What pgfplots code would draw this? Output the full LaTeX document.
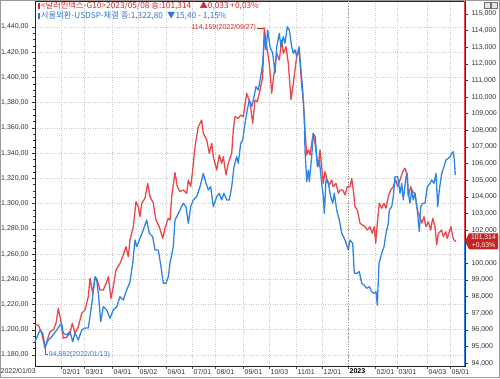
\documentclass[border=0pt]{standalone}
\usepackage{pgfplots}
\pgfplotsset{compat=1.18}
\usepackage{fontspec}
\setmainfont{Liberation Sans}
\newfontfamily\kr{Noto Sans CJK KR}
\definecolor{cred}{RGB}{232,72,74}
\definecolor{cblue}{RGB}{45,132,230}
\definecolor{tred}{RGB}{212,40,40}
\definecolor{tblue}{RGB}{50,118,212}
\definecolor{gridc}{RGB}{200,200,200}
\definecolor{boxred}{RGB}{196,36,36}

\pgfplotsset{
  common/.style={
    at={(35pt,12pt)}, anchor=south west, scale only axis,
    width=430pt, height=365pt, xmin=0, xmax=430,
    tick align=outside, major tick length=3pt, minor tick length=1.5pt,
    tick style={black!80, line width=0.4pt},
    ticklabel style={font=\fontsize{7}{8}\selectfont, color=black!80},
  }
}

\begin{document}
\begin{tikzpicture}[x=1pt,y=1pt]
\path[use as bounding box] (0,0) rectangle (500,378);
\fill[white] (0,0) rectangle (500,378);

% left axis with grid
\begin{axis}[common,
  ymin=1171.28, ymax=1460.6,
  axis line style={black!85, line width=0.5pt},
  ytick={1180,1200,...,1440}, minor y tick num=3,
  ytick pos=left, xtick pos=bottom,
  yticklabel style={/pgf/number format/.cd, use comma, 1000 sep={,}, fixed, fixed zerofill, precision=2, assume math mode=true},
  xtick={26,49,77,103,131,157,180,208,234,261,287,313,340,362,392,415},
  xticklabels={02/01,03/01,04/01,05/02,06/01,07/01,08/01,09/01,10/03,11/01,12/01,{\color{black}\textbf{2023}},02/01,03/01,04/03,05/01},
  xticklabel style={anchor=north west, inner sep=1pt, xshift=0.5pt, yshift=1.2pt},
  major x tick style={black!70},
  xmajorgrids, ymajorgrids,
  major grid style={gridc, dotted, line width=0.6pt},
]
\draw[black!45, dotted, line width=0.7pt] (axis cs:313,1171.28) -- (axis cs:313,1460.6);
\end{axis}

% right axis: dollar index
\begin{axis}[common,
  ymin=93.82, ymax=115.78,
  axis x line=none, axis y line*=right,
  y axis line style={draw=none},
  ytick={94,95,...,100,102,103,...,115},
  yticklabel style={/pgf/number format/.cd, use comma, fixed, fixed zerofill, precision=3, assume math mode=true},
]
\addplot[cred, line width=1.3pt, line join=round] coordinates {
(0,96.29)(3.3,96.29)(6.7,95.80)(10,94.88)(13.3,95.58)(15,95.88)(18.3,95.99)(21,96.39)(23.3,97.29)(25.7,96.59)(28.3,95.49)(31.7,95.55)(35,95.81)(37.3,96.39)(40,95.79)(43.3,96.18)(46.7,96.99)(50,97.19)(53.3,97.99)(55,99.10)(57.7,98.19)(60,99.10)(61.7,99.10)(65,98.39)(68.3,98.39)(71.7,98.89)(73.3,99.19)(76,97.89)(78.3,98.59)(81,99.60)(85,100.00)(88.3,100.50)(91,101.00)(93.3,100.40)(95,101.40)(98.3,102.20)(101,103.71)(103.3,103.40)(105,102.80)(106.7,103.61)(110,103.91)(112.7,104.81)(115,104.01)(118.3,103.61)(121,102.60)(124.3,102.20)(127.7,101.50)(130,102.11)(133.3,102.71)(135,102.60)(136.7,104.01)(140,105.46)(142.3,104.61)(145,104.31)(148.3,104.41)(151.7,104.21)(153.3,105.01)(155.7,104.61)(157.7,105.61)(160,107.01)(163.3,108.22)(166.7,108.62)(168.3,107.82)(171.7,107.42)(174.3,106.62)(176.7,107.22)(178.3,106.41)(181.7,105.61)(184.3,106.52)(186.7,106.02)(188.3,106.41)(191,105.31)(193.3,106.02)(196.7,106.62)(198.3,108.02)(200,108.82)(203.3,108.72)(205.7,108.92)(208.3,108.82)(211.7,110.23)(215,109.63)(217.7,108.42)(220,109.82)(222.3,109.72)(225,110.43)(227.7,111.23)(229.3,114.16)(231.7,113.03)(234.3,112.03)(236.7,110.23)(239,111.43)(241.7,112.63)(244.3,112.23)(246.7,113.43)(248.3,112.63)(251,113.03)(253.3,112.03)(256,109.84)(258.3,110.83)(261.7,112.43)(264.3,112.83)(266.7,110.63)(268.3,109.84)(270,108.02)(271.7,106.52)(273.3,106.82)(275,106.52)(276.7,107.22)(278.3,107.82)(280,107.22)(281.7,106.41)(283.3,105.81)(285,106.82)(286.7,105.81)(288.3,104.81)(290,105.51)(292.3,105.01)(294.3,104.71)(296.7,105.01)(298.3,104.61)(301,104.81)(303.3,104.21)(305,104.41)(307.7,104.41)(310,104.11)(312.3,104.61)(315,104.61)(316.7,105.11)(318.3,104.41)(320,103.40)(322.3,103.21)(325,102.41)(327.7,102.30)(330,102.20)(332.3,102.00)(335,102.20)(337.3,101.80)(339.3,102.20)(340.7,101.20)(342.3,102.41)(344.3,103.61)(346.7,103.31)(349,103.61)(351,103.31)(353.3,104.01)(355.7,104.41)(358.3,104.61)(360.7,105.01)(362.7,104.61)(365,105.01)(367.7,105.51)(370,105.72)(371.7,105.41)(373.3,104.01)(375.7,104.61)(377.7,104.31)(380,104.21)(381.7,103.40)(383.3,103.01)(385,102.80)(386.7,102.41)(389,102.80)(391,102.20)(393.3,102.50)(395.7,102.00)(397.7,102.71)(400,102.20)(401.7,101.10)(403.3,101.80)(405,101.90)(406.7,102.00)(408.3,101.60)(410.7,101.90)(412.3,101.50)(414.3,101.90)(416,102.20)(417.7,101.60)(419,101.40)(421,101.31)
};
% right axis line: red above last value, blue below
\draw[cred, line width=1.2pt] (axis cs:430,101.314) -- (axis cs:430,115.78);
\draw[cblue, line width=1.2pt] (axis cs:430,93.82) -- (axis cs:430,101.314);
% peak annotation
\draw[tred, line width=0.5pt] (axis cs:229.3,114.159) -- ([xshift=-7pt]axis cs:229.3,114.159) node[anchor=east, inner sep=1pt, font=\fontsize{7}{8}\selectfont, text=tred] {114,159(2022/09/27)};
% low annotation
\draw[tblue, line width=0.5pt] (axis cs:10,94.882) -- ([yshift=-6pt]axis cs:10,94.882) -- ([yshift=-6pt,xshift=3pt]axis cs:10,94.882) node[anchor=west, inner sep=0.5pt, font=\fontsize{7}{8}\selectfont, text=tblue] {94,882(2022/01/13)};
\end{axis}

% blue series on top
\begin{axis}[common, hide axis, ymin=1171.28, ymax=1460.6, clip=false]
\addplot[cblue, line width=1.3pt, line join=round] coordinates {
(0,1190.5)(5,1199.8)(7.7,1197.4)(10,1186.6)(13.3,1191.9)(16.7,1194.5)(21.7,1199.8)(25,1203.8)(26.7,1204.6)(28.3,1197.4)(31.7,1195.9)(35,1198.5)(37.7,1190.5)(40,1197.4)(43.3,1191.9)(46.7,1199.8)(50,1201.4)(53.3,1201.4)(55,1210.4)(57.7,1226.2)(60,1242.1)(61.7,1239.5)(63.3,1229.1)(65.7,1206.4)(68.3,1218.3)(71.7,1215.7)(75,1209.1)(78.3,1215.7)(81.7,1218.3)(85,1226.2)(88.3,1223.6)(91.7,1231.5)(95,1238.1)(97.7,1252.7)(100,1271.2)(101.7,1265.9)(105,1272.5)(108.3,1279.1)(111.7,1287.0)(114.3,1276.5)(117.7,1273.8)(120,1263.2)(123.3,1263.2)(126,1250.0)(128.3,1236.8)(131,1236.8)(133.3,1242.1)(135,1252.7)(138.3,1265.9)(140,1287.0)(141.7,1289.6)(145,1294.9)(148.3,1300.3)(151,1297.6)(153.3,1284.4)(155.7,1297.6)(158.3,1302.9)(161.7,1305.5)(165,1313.4)(168.3,1324.0)(171,1316.1)(173.3,1310.8)(175.7,1313.4)(178.3,1297.6)(181.7,1305.5)(184.3,1308.2)(186.7,1302.9)(189,1308.2)(191.7,1302.9)(194.3,1302.9)(196.7,1313.4)(199,1329.3)(201.7,1337.2)(203.3,1332.0)(205.7,1347.8)(207.7,1350.4)(210,1363.7)(212.3,1374.2)(214.3,1382.1)(216.7,1376.8)(218.3,1382.1)(221,1392.7)(223.3,1390.1)(225.7,1400.6)(227.7,1411.2)(229.3,1432.3)(231,1421.8)(232.7,1437.6)(235,1424.4)(237.7,1419.2)(240,1403.3)(241.7,1424.4)(244.3,1435.0)(246,1424.4)(248.3,1432.3)(250,1427.1)(252.3,1440.2)(254.3,1437.6)(256.7,1424.4)(258.3,1419.2)(260,1421.8)(261.7,1416.5)(264,1424.4)(265.7,1408.5)(267.7,1390.1)(269.3,1366.3)(270,1342.5)(271.7,1317.4)(273.3,1326.6)(274.3,1317.4)(276.7,1337.2)(278.3,1355.7)(280.3,1353.0)(282.3,1329.3)(284.3,1334.6)(286.7,1316.1)(288.3,1305.5)(289.3,1292.3)(291,1318.7)(293.3,1316.1)(295.7,1305.5)(297.7,1300.3)(299.3,1308.2)(301.7,1294.9)(304.3,1287.0)(306.7,1276.5)(310,1271.2)(313.3,1263.2)(315,1271.2)(317.7,1268.5)(319.3,1244.8)(321.7,1244.8)(324.3,1246.0)(326.7,1236.8)(329,1235.5)(331.7,1232.9)(334.3,1234.1)(336.7,1230.2)(339,1228.9)(341,1230.2)(342.3,1219.6)(344,1252.7)(346.7,1260.6)(349,1265.9)(351,1276.5)(353.3,1284.4)(354.3,1294.9)(356.7,1297.6)(358.3,1305.5)(360,1321.3)(362.7,1321.3)(365,1308.2)(366.7,1316.1)(368.3,1302.9)(371,1321.3)(372.3,1324.0)(373.3,1308.2)(375,1300.3)(376.7,1310.8)(378.3,1302.9)(380,1308.2)(382.3,1294.9)(384.3,1277.7)(385.7,1297.6)(387.7,1300.3)(390,1300.3)(392.3,1313.4)(395,1316.1)(396.7,1318.7)(399,1316.1)(401,1324.0)(402.7,1297.6)(404.3,1310.8)(406.7,1324.0)(409,1329.3)(411,1334.6)(413.3,1335.9)(415,1337.2)(416.7,1339.8)(418.3,1341.2)(419.3,1334.6)(420.3,1322.8)
};
% value box for the last dollar index value (101.314 at rel. height 0.3413)
\fill[boxred] (rel axis cs:1,0.3413) -- ([xshift=4pt,yshift=8pt]rel axis cs:1,0.3413) -- ([xshift=33pt,yshift=8pt]rel axis cs:1,0.3413) -- ([xshift=33pt,yshift=-8pt]rel axis cs:1,0.3413) -- ([xshift=4pt,yshift=-8pt]rel axis cs:1,0.3413) -- cycle;
\node[text=white, font=\fontsize{6.8}{7}\selectfont, inner sep=0] at ([xshift=18.5pt,yshift=3.6pt]rel axis cs:1,0.3413) {101,314};
\node[text=white, font=\fontsize{6.8}{7}\selectfont, inner sep=0] at ([xshift=18.5pt,yshift=-3.8pt]rel axis cs:1,0.3413) {+0,03\%};
\end{axis}

% first x label and header
\node[anchor=north west, inner sep=0, font=\fontsize{7}{8}\selectfont, text=black!80] at (0.5,9.8) {2022/01/03};
\node[anchor=west, inner sep=0, text=tred] at (38,372) {\kr\fontsize{8.3}{9}\selectfont\rule{1.4pt}{5.5pt}\,<달러인덱스-G10>2023/05/08 종:101,314\quad ▲0,033 +0,03\%};
\node[anchor=west, inner sep=0, text=tblue] at (38,362) {\kr\fontsize{8.3}{9}\selectfont\rule{1.4pt}{5.5pt}\,서울외환-USDSP-체결 종:1,322,80\enspace ▼15,40 - 1,15\%};
% window buttons
\draw[black!55, line width=0.4pt, fill=black!10] (484,370) rectangle (490,376);
\draw[black!55, line width=0.4pt, fill=black!10] (491,370) rectangle (497,376);
% outer frame
\draw[black!40, line width=0.6pt] (0.3,0.3) rectangle (499.7,377.7);
\end{tikzpicture}
\end{document}
